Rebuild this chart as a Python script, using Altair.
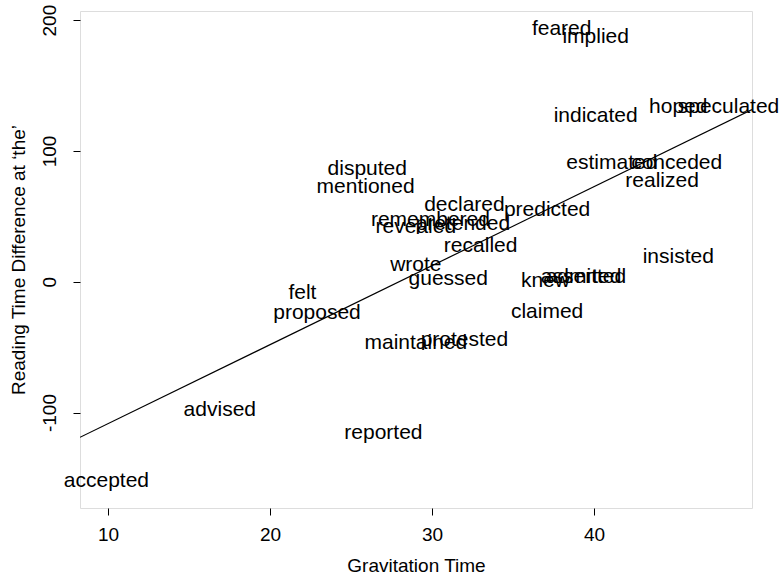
import altair as alt
import pandas as pd

words = ["feared", "implied", "indicated", "hoped", "speculated", "estimated",
         "conceded", "realized", "disputed", "mentioned", "declared", "predicted",
         "remembered", "pretended", "revealed", "recalled", "wrote", "guessed",
         "knew", "asserted", "admitted", "insisted", "claimed", "felt", "proposed",
         "maintained", "protested", "advised", "reported", "accepted"]
grav_time = [38.0, 40.1, 40.1, 45.2, 48.3, 41.1,
             45.1, 44.2, 26.0, 25.9, 32.0, 37.1,
             29.9, 31.9, 29.0, 33.0, 29.0, 31.0,
             37.0, 39.2, 39.5, 45.2, 37.1, 22.0, 22.9,
             29.0, 32.0, 16.9, 27.0, 9.9]
rt_diff = [193.6, 187.5, 127.0, 133.9, 133.9, 91.0,
           91.0, 77.3, 86.5, 72.7, 58.9, 55.1,
           47.4, 44.4, 42.1, 27.5, 13.0, 2.3,
           0.8, 3.8, 3.8, 19.1, -23.0, -8.4, -23.7,
           -46.7, -44.4, -97.9, -115.5, -152.3]

x_domain = [8.27, 49.75]
y_domain = [-173.0, 207.0]
fit_intercept = -168.9
fit_slope = 6.04

df = pd.DataFrame({"word": words, "x": grav_time, "y": rt_diff})
line_df = pd.DataFrame({"x": x_domain,
                        "y": [fit_intercept + fit_slope * v for v in x_domain]})

FONT = "Liberation Sans"

xscale = alt.Scale(domain=x_domain, nice=False, zero=False)
yscale = alt.Scale(domain=y_domain, nice=False, zero=False)

xaxis = alt.Axis(values=[10, 20, 30, 40], title="Gravitation Time", grid=False,
                 domain=False, tickColor="black", tickSize=7, labelPadding=10,
                 labelFont=FONT, labelFontSize=19, labelColor="black",
                 titleFont=FONT, titleFontSize=19, titleFontWeight="normal",
                 titleColor="black", titlePadding=12)
yaxis = alt.Axis(values=[-100, 0, 100, 200], title="Reading Time Difference at \u2018the\u2019",
                 grid=False, domain=False, tickColor="black", tickSize=7,
                 labelAngle=270, labelAlign="center", labelBaseline="bottom",
                 labelPadding=14, labelExpr="'' + datum.value",
                 labelFont=FONT, labelFontSize=19, labelColor="black",
                 titleFont=FONT, titleFontSize=19, titleFontWeight="normal",
                 titleColor="black", titlePadding=12)

text = alt.Chart(df).mark_text(font=FONT, fontSize=21, color="black",
                               align="center", baseline="middle").encode(
    x=alt.X("x:Q", scale=xscale, axis=xaxis),
    y=alt.Y("y:Q", scale=yscale, axis=yaxis),
    text="word:N",
)

line = alt.Chart(line_df).mark_line(color="black", strokeWidth=1.2, clip=True).encode(
    x=alt.X("x:Q", scale=xscale),
    y=alt.Y("y:Q", scale=yscale),
)

chart = alt.layer(line, text).properties(
    width=672, height=497,
    autosize=alt.AutoSizeParams(type="none"),
    padding={"left": 80, "top": 11, "right": 27, "bottom": 69},
).configure_view(stroke="black", strokeWidth=1.2).configure(background="white")

chart.save("out.html", embed_options={"renderer": "svg", "actions": False})
